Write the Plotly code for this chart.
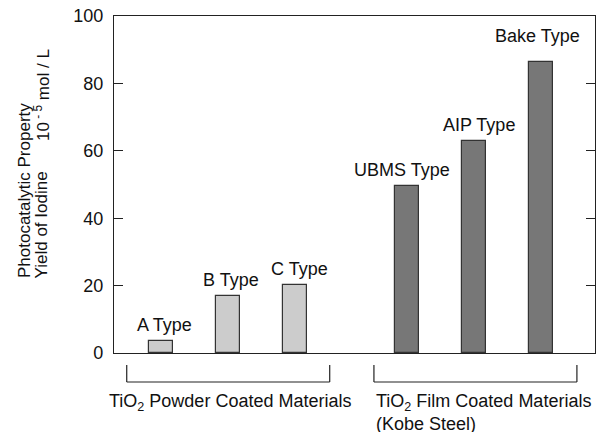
import plotly.graph_objects as go

categories = ["A Type", "B Type", "C Type", "UBMS Type", "AIP Type", "Bake Type"]
values = [3.6, 16.9, 20.2, 49.6, 62.9, 86.4]
groups = ["powder", "powder", "powder", "film", "film", "film"]
tick_vals = [0, 20, 40, 60, 80, 100]

# positions: gap between groups
xpos = [i + 1 + (0.67 if g == "film" else 0) for i, g in enumerate(groups)]

FONT = "Liberation Sans, Arial, sans-serif"
fill = {"powder": "#cccccc", "film": "#777777"}
edge = {"powder": "#333333", "film": "#333333"}
TXT = "#111111"
# label placement nudges (pixels), matching the original drawing
label_nudge = {"A Type": (4, 4), "B Type": (3, 4), "C Type": (5, 4),
               "UBMS Type": (-5, 4), "AIP Type": (5, 4), "Bake Type": (-3, 14)}

fig = go.Figure()
for grp in ["powder", "film"]:
    xs = [x for x, g in zip(xpos, groups) if g == grp]
    ys = [v for v, g in zip(values, groups) if g == grp]
    fig.add_trace(go.Bar(x=xs, y=ys, width=0.36,
                         marker=dict(color=fill[grp], line=dict(color=edge[grp], width=1.2)),
                         showlegend=False, hoverinfo="skip"))

for x, v, c in zip(xpos, values, categories):
    dx, dy = label_nudge[c]
    fig.add_annotation(x=x, y=v, text=c, showarrow=False, xanchor="center", yanchor="bottom",
                       xshift=dx, yshift=dy, font=dict(size=18, color=TXT, family=FONT))

# group brackets
brackets = [(0.49, 3.52), (4.18, 7.21)]
for x0, x1 in brackets:
    for xx in (x0, x1):
        fig.add_shape(type="line", xref="x", yref="paper", x0=xx, x1=xx, y0=-0.0356, y1=-0.086,
                      line=dict(color="#222222", width=1.2))
    fig.add_shape(type="line", xref="x", yref="paper", x0=x0, x1=x1, y0=-0.086, y1=-0.086,
                  line=dict(color="#222222", width=1.2))

fig.add_annotation(x=2.03, y=-0.108, xref="x", yref="paper", text="TiO<sub>2</sub> Powder Coated Materials",
                   showarrow=False, xanchor="center", yanchor="top",
                   font=dict(size=18, color=TXT, family=FONT))
fig.add_annotation(x=4.18, y=-0.108, xref="x", yref="paper",
                   text="TiO<sub>2</sub> Film Coated Materials<br>(Kobe Steel)",
                   showarrow=False, xanchor="left", yanchor="top", align="left",
                   font=dict(size=18, color=TXT, family=FONT))

# y axis title (rotated, three pieces)
tfont = dict(size=17, color=TXT, family=FONT)
fig.add_annotation(xref="paper", yref="paper", x=-0.186, y=0.2166, text="Photocatalytic Property",
                   textangle=-90, showarrow=False, xanchor="center", yanchor="bottom", font=tfont)
fig.add_annotation(xref="paper", yref="paper", x=-0.1497, y=0.2166, text="Yield of Iodine",
                   textangle=-90, showarrow=False, xanchor="center", yanchor="bottom", font=tfont)
fig.add_annotation(xref="paper", yref="paper", x=-0.1497, y=0.908,
                   text="10<sup> - 5</sup> mol / L",
                   textangle=-90, showarrow=False, xanchor="center", yanchor="top", font=tfont)

fig.update_layout(
    width=599, height=432,
    margin=dict(l=114, r=4, t=16, b=79),
    paper_bgcolor="white", plot_bgcolor="white",
    bargap=0,
    xaxis=dict(range=[0.30, 7.48], showticklabels=False, ticks="", showgrid=False, zeroline=False,
               showline=True, linecolor="#222222", linewidth=1.2, mirror=True),
    yaxis=dict(range=[0, 100], tickvals=tick_vals, ticks="inside", ticklen=9, tickcolor="#222222",
               ticklabelstandoff=6,
               showgrid=False, zeroline=False, showline=True, linecolor="#222222", linewidth=1.2,
               mirror="ticks", tickfont=dict(size=18, color=TXT, family=FONT)),
    font=dict(family=FONT),
)

fig.write_html("out.html", config={"displayModeBar": False},
               post_script="document.body.style.margin='0';")
